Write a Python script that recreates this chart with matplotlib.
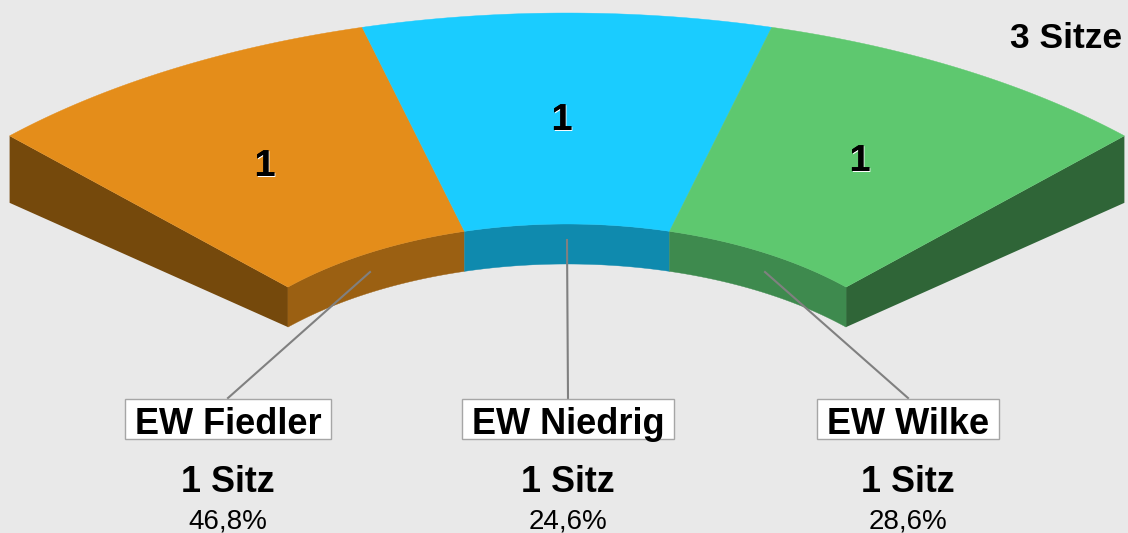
import matplotlib
matplotlib.use('Agg')
import matplotlib.pyplot as plt
import matplotlib.patheffects as pe
from matplotlib.patches import Polygon, Rectangle
import numpy as np

# parties, seats and vote shares
parties = ['EW Fiedler', 'EW Niedrig', 'EW Wilke']
seats = [1, 1, 1]
seat_labels = ['1 Sitz', '1 Sitz', '1 Sitz']
shares = ['46,8%', '24,6%', '28,6%']
total_label = '3 Sitze'

top_colors = ['#e48d1a', '#1accff', '#5ec86f']
inner_colors = ['#9b6012', '#0f8aae', '#3e8a4e']
end_colors = {'left': '#75490c', 'right': '#2f6537'}

W, H = 1128, 533
BG = '#e9e9e9'
FONT = 'Liberation Sans'

# arc shape in pixels
cx = 567
T0 = 0.8
outer_a, outer_b, outer_top = 777, 405, 13
inner_a, inner_b, inner_top = 389, 208, 224
depth = 40
end_depth = 67
label_x = [228, 568, 908]
label_anchor_y = [272, 240, 272]
anchor_x = [370, 567, 765]
number_xy = [(265, 166), (562, 120), (860, 161)]


def outer(t):
    return cx + outer_a*np.sin(t), outer_top + outer_b*(1 - np.cos(t))


def inner(t):
    return cx + inner_a*np.sin(t), inner_top + inner_b*(1 - np.cos(t))


fig = plt.figure(figsize=(W/100, H/100), dpi=100, facecolor=BG)
ax = fig.add_axes([0, 0, 1, 1])
ax.set_xlim(0, W)
ax.set_ylim(H, 0)
ax.axis('off')

edges = np.cumsum([0] + seats) / sum(seats) * 2*T0 - T0

# end faces
for side, t in (('left', -T0), ('right', T0)):
    ox, oy = outer(t)
    ix, iy = inner(t)
    ax.add_patch(Polygon([(ox, oy), (ix, iy), (ix, iy + depth), (ox, oy + end_depth)],
                         fc=end_colors[side], ec='none', zorder=1))

renderer = fig.canvas.get_renderer()
shadow = [pe.withSimplePatchShadow(offset=(0.7, -0.7), shadow_rgbFace='white', alpha=1), pe.Normal()]

for i in range(len(seats)):
    ts = np.linspace(edges[i], edges[i+1], 60)
    ox, oy = outer(ts)
    ix, iy = inner(ts)
    # inner wall
    wall = np.vstack([np.c_[ix, iy], np.c_[ix, iy + depth][::-1]])
    ax.add_patch(Polygon(wall, fc=inner_colors[i], ec=inner_colors[i], lw=0.3, zorder=2))
    # top
    top = np.vstack([np.c_[ox, oy], np.c_[ix, iy][::-1]])
    ax.add_patch(Polygon(top, fc=top_colors[i], ec=top_colors[i], lw=0.3, zorder=3))
    ax.text(number_xy[i][0], number_xy[i][1], str(seats[i]), ha='center', va='center',
            fontsize=27, fontweight='bold', family=FONT, color='black', zorder=6,
            path_effects=shadow)

    # leader line and labels
    ax.plot([anchor_x[i], label_x[i]], [label_anchor_y[i], 398], color='#808080', lw=1.5, zorder=4)
    name = ax.text(label_x[i], 424, parties[i], ha='center', va='center', fontsize=26,
                   fontweight='bold', family=FONT, color='black', zorder=6)
    box_w = name.get_window_extent(renderer).width + 19
    ax.add_patch(Rectangle((label_x[i] - box_w/2, 399), box_w, 40, fc='white', ec='#a6a6a6',
                           lw=1, zorder=5))
    ax.text(label_x[i], 482, seat_labels[i], ha='center', va='center', fontsize=25.8,
            fontweight='bold', family=FONT, color='black', zorder=6)
    ax.text(label_x[i], 529, shares[i], ha='center', va='baseline', fontsize=20,
            family=FONT, color='black', zorder=6)

ax.text(1122, 38, total_label, ha='right', va='center', fontsize=25.5, fontweight='bold',
        family=FONT, color='black', zorder=6)

fig.savefig('out.png', dpi=100, facecolor=BG)
